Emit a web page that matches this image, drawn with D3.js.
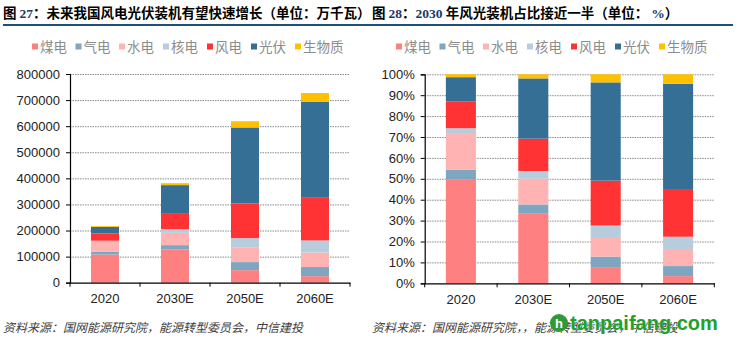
<!DOCTYPE html>
<html lang="zh">
<head>
<meta charset="utf-8">
<script src="https://d3js.org/d3.v7.min.js"></script>
<style>
  body { margin: 0; background: #fff; }
  svg { display: block; }
</style>
</head>
<body>
<div id="chart"></div>
<script>
// categories and series (单位：万千瓦)
const years = ["2020", "2030E", "2050E", "2060E"];
const seriesNames = ["煤电", "气电", "水电", "核电", "风电", "光伏", "生物质"];
const coal    = [108000, 128000,  48000,  25000];
const gas     = [ 10000,  16000,  31000,  35000];
const hydro   = [ 38000,  47000,  55000,  56000];
const nuclear = [  5000,  14000,  37000,  46000];
const wind    = [ 28000,  59000, 133000, 166000];
const solar   = [ 25000, 110000, 291000, 366000];
const biomass = [  3000,   7500,  24000,  33000];
const leftTicks = [0, 100000, 200000, 300000, 400000, 500000, 600000, 700000, 800000];
const rightTicks = [0, 0.1, 0.2, 0.3, 0.4, 0.5, 0.6, 0.7, 0.8, 0.9, 1];

const colors = ["#ff8080", "#7ea6c0", "#ffb3b3", "#b7cddd", "#ff3333", "#366f96", "#ffc000"];

// table for d3.stack
const allSeries = [coal, gas, hydro, nuclear, wind, solar, biomass];
const table = years.map((y, i) => {
  const row = {year: y};
  seriesNames.forEach((s, k) => row[s] = allSeries[k][i]);
  return row;
});

const W = 744, H = 344;
const svg = d3.select("#chart").append("svg")
  .attr("width", W).attr("height", H);

const cjk = "'Noto Sans CJK SC', 'Noto Sans', sans-serif";
const latin = "'Liberation Sans', Arial, sans-serif";

// titles
function title(x, parts) {
  const t = svg.append("text").attr("x", x).attr("y", 18)
    .attr("font-size", 13.5).attr("font-weight", 700).attr("fill", "#000");
  parts.forEach(p => {
    t.append("tspan").text(p[0])
      .attr("font-family", p[1] ? "'Liberation Serif', serif" : cjk)
      .attr("fill", p[1] ? "#1f3864" : "#000");
  });
}
title(3, [["图 ", 0], ["27", 1], ["：未来我国风电光伏装机有望快速增长（单位：万千瓦）", 0]]);
title(372, [["图 ", 0], ["28", 1], ["：", 0], ["2030", 1], [" 年风光装机占比接近一半（单位：  ", 0], ["%", 1], ["）", 0]]);

svg.append("line").attr("x1", 3).attr("x2", 733).attr("y1", 25).attr("y2", 25)
  .attr("stroke", "#1f4e79").attr("stroke-width", 2.2);

function legend(x0) {
  const g = svg.append("g").attr("transform", "translate(" + x0 + ",0)");
  const steps = [0, 43.5, 87, 131, 175, 219, 263];
  seriesNames.forEach((s, k) => {
    g.append("rect").attr("x", steps[k]).attr("y", 43.5).attr("width", 6).attr("height", 6)
      .attr("fill", colors[k]);
    g.append("text").attr("x", steps[k] + 8).attr("y", 51.5)
      .attr("font-family", cjk).attr("font-size", 13.5).attr("fill", "#8c8c8c")
      .text(s);
  });
}
legend(32);
legend(396);

function drawChart(opts) {
  const x = d3.scaleBand().domain(years).range(opts.xr)
    .paddingInner(opts.pin).paddingOuter(opts.pin / 2);
  const y = d3.scaleLinear().domain(opts.domain).range(opts.yr);
  const g = svg.append("g");

  // grid
  g.selectAll(".grid").data(opts.ticks.slice(1)).join("line")
    .attr("x1", opts.xr[0]).attr("x2", opts.xr[1])
    .attr("y1", d => y(d) + 0.5).attr("y2", d => y(d) + 0.5)
    .attr("stroke", "#8a8a8a").attr("stroke-width", 1).attr("stroke-dasharray", "1.5,1");

  const stack = d3.stack().keys(seriesNames);
  if (opts.expand) stack.offset(d3.stackOffsetExpand);
  const layers = stack(table);

  g.selectAll(".layer").data(layers).join("g")
    .attr("fill", (d, k) => colors[k])
    .selectAll("rect").data(d => d).join("rect")
      .attr("x", d => x(d.data.year))
      .attr("width", x.bandwidth())
      .attr("y", d => y(d[1]))
      .attr("height", d => y(d[0]) - y(d[1]));

  // y axis
  const ya = g.append("g").attr("transform", "translate(" + opts.xr[0] + ",0)")
    .call(d3.axisLeft(y).tickValues(opts.ticks).tickFormat(opts.fmt).tickSize(4).tickPadding(6));
  ya.select(".domain").attr("stroke", "#000").attr("stroke-width", 1.2);
  ya.selectAll(".tick line").attr("stroke", "#000");
  ya.selectAll("text").attr("font-family", latin).attr("font-size", 13).attr("fill", "#222");

  // x axis
  const xa = g.append("g").attr("transform", "translate(0," + opts.yr[0] + ")")
    .call(d3.axisBottom(x).tickSize(0).tickPadding(11).tickSizeOuter(0));
  xa.select(".domain").attr("stroke", "#000").attr("stroke-width", 1.2);
  xa.selectAll("text").attr("font-family", latin).attr("font-size", 13).attr("fill", "#222");
  const edges = years.map(c => x(c) - x.step() * x.paddingInner() / 2)
    .concat([x(years[years.length - 1]) + x.bandwidth() + x.step() * x.paddingInner() / 2]);
  xa.selectAll(".edge").data(edges).join("line")
    .attr("x1", d => d).attr("x2", d => d).attr("y1", 0).attr("y2", 4)
    .attr("stroke", "#000");
}

drawChart({xr: [70, 350], yr: [282.7, 74], domain: [0, 800000], ticks: leftTicks,
  fmt: d3.format("d"), pin: 0.6, expand: false});
drawChart({xr: [424.7, 714.3], yr: [283.3, 74.3], domain: [0, 1], ticks: rightTicks,
  fmt: d3.format(".0%"), pin: 0.585, expand: true});

// sources
function source(x, txt) {
  svg.append("text").attr("x", x).attr("y", 332)
    .attr("font-family", cjk).attr("font-size", 12).attr("font-style", "italic")
    .attr("fill", "#404040").text(txt);
}
source(3, "资料来源：国网能源研究院，能源转型委员会，中信建投");
source(372, "资料来源：国网能源研究院，，能源转型委员会，中信建投");

// watermark
const wm = svg.append("g");
wm.append("circle").attr("cx", 559).attr("cy", 323).attr("r", 9).attr("fill", "#2e9a3a");
wm.append("text").attr("x", 559).attr("y", 328).attr("text-anchor", "middle")
  .attr("font-family", latin).attr("font-weight", 700).attr("font-size", 13).attr("fill", "#fff").text("h");
wm.append("text").attr("x", 570).attr("y", 330)
  .attr("font-family", latin).attr("font-weight", 700).attr("font-size", 20)
  .attr("fill", "#23a02b").attr("stroke", "#fff").attr("stroke-width", 0.5)
  .attr("paint-order", "stroke").text("tanpaifang.com");
</script>
</body>
</html>
